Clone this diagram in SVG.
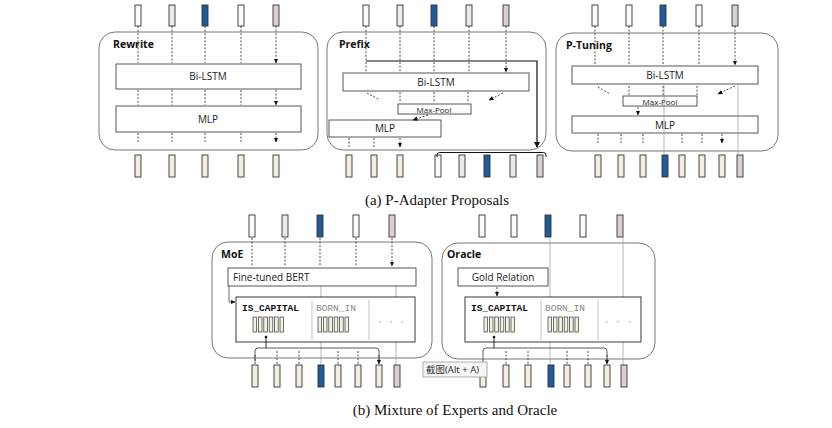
<svg xmlns="http://www.w3.org/2000/svg" width="832" height="428" viewBox="0 0 832 428">
<style>
.panel{fill:#fff;stroke:#777;stroke-width:1}
.box{fill:#fff;stroke:#444;stroke-width:0.9}
.tk{stroke:#333;stroke-width:0.9}
.w{fill:#fbfbf9}.g{fill:#e9e9e9}.b{fill:#1d5b9b}.p{fill:#dccfd1}.c{fill:#f3efdc}
.lbl{font-family:"Open Sans","Noto Sans",sans-serif;font-weight:bold;font-size:10.5px;fill:#111}
.t{font-family:"Open Sans","Noto Sans",sans-serif;font-size:10px;fill:#222;text-anchor:middle}
.ts{font-family:"Open Sans","Noto Sans",sans-serif;font-size:8px;fill:#222;text-anchor:middle}
.da{stroke:#222;stroke-width:0.8;stroke-dasharray:2,1.6;fill:none;marker-end:url(#ah)}
.sl{stroke:#111;stroke-width:1.2;fill:none}
.gl{stroke:#9a9a9a;stroke-width:0.7;fill:none}
.mono{font-family:"Liberation Mono","DejaVu Sans Mono",monospace;font-size:9.5px}
.cap{font-family:"Liberation Serif","Times New Roman",serif;font-size:15px;fill:#111;text-anchor:middle}
.bar{fill:#f5f1e2;stroke:#333;stroke-width:0.7}
.dv{stroke:#aaa;stroke-width:0.7}
</style>
<defs>
<marker id="ah" markerUnits="userSpaceOnUse" markerWidth="5" markerHeight="5" refX="4.5" refY="2.5" orient="auto"><path d="M0,0.3 L5,2.5 L0,4.7z" fill="#111"/></marker>
<marker id="ahb" markerUnits="userSpaceOnUse" markerWidth="6" markerHeight="6" refX="5" refY="3" orient="auto"><path d="M0,0 L6,3 L0,6z" fill="#111"/></marker>
<g id="bars">
<rect class="bar" x="0" y="0" width="3.6" height="15"/>
<rect class="bar" x="5.4" y="0" width="3.6" height="15"/>
<rect class="bar" x="10.8" y="0" width="3.6" height="15"/>
<rect class="bar" x="16.2" y="0" width="3.6" height="15"/>
<rect class="bar" x="21.6" y="0" width="3.6" height="15"/>
<rect class="bar" x="27" y="0" width="3.6" height="15"/>
</g>
</defs>

<!-- Rewrite -->
<g id="rewrite">
<rect class="panel" x="99" y="32" width="219" height="118" rx="16"/>
<text class="lbl" x="113" y="48">Rewrite</text>
<rect class="tk w" x="135" y="5" width="6" height="21"/>
<rect class="tk g" x="169" y="5" width="6" height="21"/>
<rect class="tk b" x="202" y="5" width="6" height="21"/>
<rect class="tk w" x="238" y="5" width="6" height="21"/>
<rect class="tk p" x="273" y="5" width="6" height="21"/>
<rect class="box" x="116" y="64" width="185" height="25"/>
<text class="t" x="208" y="80">Bi-LSTM</text>
<rect class="box" x="116" y="106" width="185" height="26"/>
<text class="t" x="208" y="123">MLP</text>
<rect class="tk c" x="135" y="155" width="6" height="22"/>
<rect class="tk c" x="169" y="155" width="6" height="22"/>
<rect class="tk c" x="202" y="155" width="6" height="22"/>
<rect class="tk c" x="238" y="155" width="6" height="22"/>
<rect class="tk c" x="273" y="155" width="6" height="22"/>
</g>

<!-- Prefix -->
<g id="prefix">
<rect class="panel" x="327" y="32" width="219" height="118" rx="16"/>
<text class="lbl" x="339" y="48">Prefix</text>
<rect class="tk w" x="363" y="5" width="6" height="21"/>
<rect class="tk g" x="397" y="5" width="6" height="21"/>
<rect class="tk b" x="431" y="5" width="6" height="21"/>
<rect class="tk g" x="466" y="5" width="6" height="21"/>
<rect class="tk p" x="503" y="5" width="6" height="21"/>
<rect class="box" x="343" y="73" width="186" height="18"/>
<text class="t" x="436" y="86">Bi-LSTM</text>
<rect class="box" x="398" y="104" width="73" height="10"/>
<text class="ts" x="434" y="112.5">Max-Pool</text>
<rect class="box" x="329" y="120" width="112" height="17"/>
<text class="t" x="385" y="132">MLP</text>
<rect class="tk c" x="346" y="155" width="6" height="22"/>
<rect class="tk c" x="371" y="155" width="6" height="22"/>
<rect class="tk c" x="397" y="155" width="6" height="22"/>
<rect class="tk w" x="435" y="155" width="6" height="22"/>
<rect class="tk g" x="459" y="155" width="6" height="22"/>
<rect class="tk b" x="484" y="155" width="6" height="22"/>
<rect class="tk g" x="510" y="155" width="6" height="22"/>
<rect class="tk p" x="537" y="155" width="6" height="22"/>
</g>

<!-- P-Tuning -->
<g id="ptuning">
<rect class="panel" x="556" y="33" width="222" height="118" rx="16"/>
<text class="lbl" x="566" y="49">P-Tuning</text>
<rect class="tk w" x="592" y="5" width="6" height="21"/>
<rect class="tk w" x="626" y="5" width="6" height="21"/>
<rect class="tk b" x="660" y="5" width="6" height="21"/>
<rect class="tk w" x="696" y="5" width="6" height="21"/>
<rect class="tk p" x="732" y="5" width="6" height="21"/>
<rect class="box" x="572" y="66" width="186" height="18"/>
<text class="t" x="665" y="79">Bi-LSTM</text>
<rect class="box" x="623" y="96" width="74" height="10"/>
<text class="ts" x="660" y="104.5">Max-Pool</text>
<rect class="box" x="572" y="116" width="186" height="17"/>
<text class="t" x="665" y="128.5">MLP</text>
<rect class="tk c" x="595" y="155" width="6" height="22"/>
<rect class="tk c" x="618" y="155" width="6" height="22"/>
<rect class="tk c" x="640" y="155" width="6" height="22"/>
<rect class="tk b" x="662" y="155" width="6" height="22"/>
<rect class="tk c" x="679" y="155" width="6" height="22"/>
<rect class="tk c" x="699" y="155" width="6" height="22"/>
<rect class="tk c" x="719" y="155" width="6" height="22"/>
<rect class="tk p" x="737" y="155" width="6" height="22"/>
</g>

<!-- MoE -->
<g id="moe">
<rect class="panel" x="212" y="242" width="220" height="116" rx="16"/>
<text class="lbl" x="221" y="258">MoE</text>
<rect class="tk w" x="249" y="215" width="6" height="22"/>
<rect class="tk g" x="282" y="215" width="6" height="22"/>
<rect class="tk b" x="317" y="215" width="6" height="22"/>
<rect class="tk w" x="353" y="215" width="6" height="22"/>
<rect class="tk p" x="389" y="215" width="6" height="22"/>
<path class="gl" d="M321,286 V365 M396,286 V365"/>
<rect class="box" x="228" y="268" width="188" height="18"/>
<text class="t" x="233" y="281" style="text-anchor:start">Fine-tuned BERT</text>
<rect class="box" x="236" y="297" width="179" height="45" style="stroke:#222"/>
<line class="dv" x1="312" y1="300" x2="312" y2="340"/>
<line class="dv" x1="369" y1="300" x2="369" y2="340"/>
<text class="mono" x="242" y="311" style="font-weight:bold;fill:#111">IS_CAPITAL</text>
<text class="mono" x="316" y="311" style="fill:#888">BORN_IN</text>
<text class="mono" x="391" y="324" style="fill:#999;text-anchor:middle">· · ·</text>
<use href="#bars" x="253" y="317"/>
<use href="#bars" x="318" y="317"/>
<rect class="tk c" x="252" y="365" width="6" height="22"/>
<rect class="tk c" x="274" y="365" width="6" height="22"/>
<rect class="tk c" x="296" y="365" width="6" height="22"/>
<rect class="tk b" x="318" y="365" width="6" height="22"/>
<rect class="tk c" x="335" y="365" width="6" height="22"/>
<rect class="tk c" x="355" y="365" width="6" height="22"/>
<rect class="tk c" x="376" y="365" width="6" height="22"/>
<rect class="tk p" x="394" y="365" width="6" height="22"/>
</g>

<!-- Oracle -->
<g id="oracle">
<rect class="panel" x="442" y="243" width="213" height="116" rx="16"/>
<text class="lbl" x="447" y="258">Oracle</text>
<rect class="tk w" x="479" y="215" width="6" height="22"/>
<rect class="tk w" x="511" y="215" width="6" height="22"/>
<rect class="tk b" x="545" y="215" width="6" height="22"/>
<rect class="tk w" x="580" y="215" width="6" height="22"/>
<rect class="tk p" x="617" y="215" width="6" height="22"/>
<path class="gl" d="M550,237 V365 M623,237 V365"/>
<rect class="box" x="458" y="268" width="90" height="18"/>
<text class="t" x="503" y="281">Gold Relation</text>
<rect class="box" x="465" y="297" width="176" height="45" style="stroke:#222"/>
<line class="dv" x1="541" y1="300" x2="541" y2="340"/>
<line class="dv" x1="598" y1="300" x2="598" y2="340"/>
<text class="mono" x="471" y="311" style="font-weight:bold;fill:#111">IS_CAPITAL</text>
<text class="mono" x="545" y="311" style="fill:#888">BORN_IN</text>
<text class="mono" x="618" y="324" style="fill:#999;text-anchor:middle">· · ·</text>
<use href="#bars" x="484" y="317"/>
<use href="#bars" x="548" y="317"/>
<rect class="tk c" x="480" y="365" width="6" height="22"/>
<rect class="tk c" x="503" y="365" width="6" height="22"/>
<rect class="tk c" x="525" y="365" width="6" height="22"/>
<rect class="tk b" x="548" y="365" width="6" height="22"/>
<rect class="tk c" x="564" y="365" width="6" height="22"/>
<rect class="tk c" x="585" y="365" width="6" height="22"/>
<rect class="tk c" x="604" y="365" width="6" height="22"/>
<rect class="tk p" x="621" y="365" width="6" height="22"/>
</g>

<g id="connectors">
<!-- Rewrite -->
<path class="da" d="M138,26 V63 M172,26 V63 M205,26 V63 M241,26 V63 M276,26 V63"/>
<path class="da" d="M138,90 V105 M172,90 V105 M205,90 V105 M241,90 V105 M276,90 V105"/>
<path class="da" d="M138,133 V142 M172,133 V142 M205,133 V142 M241,133 V142 M276,133 V142"/>
<!-- Prefix -->
<path class="da" d="M366,26 V72 M400,26 V72 M434,26 V72 M469,26 V72 M506,26 V72"/>
<path class="sl" d="M366,61 H537 V147" marker-end="url(#ahb)"/>
<path d="M437,157 V155 Q437,152.5 439.5,152.5 H543.5 Q546,152.5 546,155 V157" fill="none" stroke="#111" stroke-width="1"/>
<path class="da" d="M367,93 L380,100 M400,92 V103 M434,92 V103 M468,92 V103 M503,93 L489,100"/>
<path class="da" d="M428,115 L413,120"/>
<path class="da" d="M349,138 V147 M374,138 V147 M400,138 V147"/>
<!-- P-Tuning -->
<path class="da" d="M595,26 V65 M629,26 V65 M663,26 V65 M699,26 V65 M735,26 V65"/>
<path class="gl" d="M664,84 V155 M738,84 V155"/>
<path class="da" d="M598,87 L610,94 M629,86 V95 M663,86 V95 M697,86 V95 M735,86 L718,94"/>
<path class="da" d="M638,107 V115"/>
<path class="da" d="M598,134 V143 M621,134 V143 M643,134 V143 M682,134 V143 M702,134 V143 M722,134 V143"/>
<!-- MoE -->
<path class="da" d="M252,238 V266 M285,238 V266 M320,238 V266 M356,238 V266 M392,238 V266"/>
<path d="M229,286 V302 H235" fill="none" stroke="#444" stroke-width="0.8" marker-end="url(#ah)"/>
<circle cx="266" cy="337" r="1.3" fill="#111"/>
<path d="M266,337 V348" stroke="#111" stroke-width="0.9"/>
<path d="M255,362 V351 Q255,348 258,348 H376 Q379,348 379,351 V362" fill="none" stroke="#333" stroke-width="0.8"/>
<path class="da" d="M255,355 V364 M277,351 V364 M299,351 V364 M338,351 V364 M358,351 V364 M379,355 V364"/>
<!-- Oracle -->
<path class="da" d="M497,287 V296"/>
<circle cx="494" cy="337" r="1.3" fill="#111"/>
<path d="M494,337 V348" stroke="#111" stroke-width="0.9"/>
<path d="M483,362 V351 Q483,348 486,348 H604 Q607,348 607,351 V362" fill="none" stroke="#333" stroke-width="0.8"/>
<path class="da" d="M506,351 V364 M528,351 V364 M567,351 V364 M588,351 V364 M607,355 V364"/>
</g>

<g id="tooltip">
<rect x="423" y="362" width="64" height="15" fill="#f6f6f6" stroke="#999" stroke-width="0.8"/>
<text x="426" y="373" style="font-family:'Noto Sans','Noto Sans CJK SC',sans-serif;font-size:9.5px;fill:#333">截图(Alt + A)</text>
</g>

<text class="cap" x="437" y="205">(a) P-Adapter Proposals</text>
<text class="cap" x="455" y="415">(b) Mixture of Experts and Oracle</text>
</svg>
